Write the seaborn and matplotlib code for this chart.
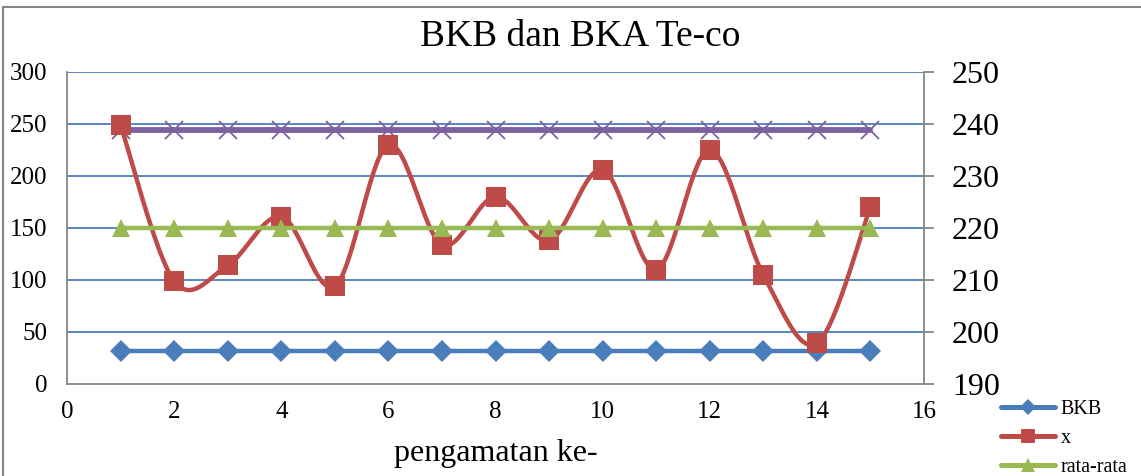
import numpy as np
import pandas as pd
import matplotlib
matplotlib.use("Agg")
import matplotlib.pyplot as plt
import seaborn as sns
from matplotlib.lines import Line2D
from matplotlib.patches import Rectangle

# ---- data ----
pengamatan = [1, 2, 3, 4, 5, 6, 7, 8, 9, 10, 11, 12, 13, 14, 15]
bkb = [32] * 15
x_vals = [249, 99, 114, 161, 94, 230, 134, 180, 138, 206, 110, 225, 105, 39, 170]
rata = [150] * 15
bka = [244] * 15
left_ticks = [0, 50, 100, 150, 200, 250, 300]
right_ticks = [190, 200, 210, 220, 230, 240, 250]
x_ticks = [0, 2, 4, 6, 8, 10, 12, 14, 16]

sns.set_style("white")
plt.rcParams['font.family'] = ['Liberation Serif', 'DejaVu Serif']
plt.rcParams['text.color'] = 'black'
plt.rcParams['axes.labelcolor'] = 'black'
plt.rcParams['xtick.color'] = 'black'
plt.rcParams['ytick.color'] = 'black'

C_BLUE = "#4a7ebb"
C_RED = "#be4b48"
C_GREEN = "#98b954"
C_PURPLE = "#7d60a0"
C_GRID = "#4a7ebb"
C_AX = "#868686"

fig = plt.figure(figsize=(11.41, 4.76), dpi=100)
ax = fig.add_axes([67/1141, 1-384/476, (924-67)/1141, (384-72)/476])

def smooth(xs, ys, n=30):
    # Catmull-Rom style rendering of the line (like spreadsheet "smoothed line")
    P = np.column_stack([xs, ys]).astype(float)
    P = np.vstack([P[0], P, P[-1]])
    out = []
    t = np.linspace(0, 1, n)
    for i in range(1, len(P) - 2):
        p0, p1, p2, p3 = P[i-1], P[i], P[i+1], P[i+2]
        c1 = p1 + (p2 - p0) / 6
        c2 = p2 - (p3 - p1) / 6
        seg = ((1-t)**3)[:, None]*p1 + (3*(1-t)**2*t)[:, None]*c1 + (3*(1-t)*t**2)[:, None]*c2 + (t**3)[:, None]*p2
        out.append(seg if i == 1 else seg[1:])
    out = np.vstack(out)
    return out[:, 0], out[:, 1]

df = pd.DataFrame({"n": pengamatan, "BKB": bkb, "x": x_vals, "rata": rata, "BKA": bka})

# purple BKA
sns.lineplot(data=df, x="n", y="BKA", ax=ax, color=C_PURPLE, linewidth=4.2,
             marker="x", markersize=13, markeredgewidth=1.3, markeredgecolor=C_PURPLE, zorder=3)
# BKB
sns.lineplot(data=df, x="n", y="BKB", ax=ax, color=C_BLUE, linewidth=3.2,
             marker="D", markersize=11, markeredgewidth=0, zorder=4)
# x smoothed
sx, sy = smooth(pengamatan, x_vals)
sns.lineplot(x=sx, y=sy, ax=ax, color=C_RED, linewidth=3.2, sort=False, estimator=None, zorder=5)
sns.scatterplot(data=df, x="n", y="x", ax=ax, color=C_RED, marker="s", s=190, linewidth=0, zorder=6)
# rata-rata
sns.lineplot(data=df, x="n", y="rata", ax=ax, color=C_GREEN, linewidth=3.2,
             marker="^", markersize=13, markeredgewidth=0, zorder=7)

ax.set_xlim(0, 16)
ax.set_ylim(0, 300)
ax.set_xticks(x_ticks)
ax.set_yticks(left_ticks)
ax.tick_params(axis="y", labelsize=18, length=0, pad=14, labelcolor="black")
ax.tick_params(axis="x", labelsize=18, length=0, pad=12, labelcolor="black")
for yv in left_ticks[1:]:
    ax.axhline(yv, color=C_GRID, linewidth=1.3, zorder=1)
ax.set_xlabel("pengamatan ke-", fontsize=23, labelpad=12, color="black")
ax.set_ylabel("")
for s in ["left", "bottom"]:
    ax.spines[s].set_color(C_AX)
    ax.spines[s].set_linewidth(1.3)
ax.spines["top"].set_visible(False)
ax.spines["right"].set_visible(False)

ax2 = ax.twinx()
ax2.set_ylim(190, 250)
ax2.set_yticks(right_ticks)
ax2.tick_params(axis="y", labelsize=23, length=7, width=1.3, color=C_AX,
                direction="out", pad=13, labelcolor="black")
for s in ["left", "bottom", "top"]:
    ax2.spines[s].set_visible(False)
ax2.spines["right"].set_color(C_AX)
ax2.spines["right"].set_linewidth(1.3)

fig.text(580/1141, 1-37/476, "BKB dan BKA Te-co", ha="center", va="center",
         fontsize=27, color="black")

handles = [
    Line2D([], [], color=C_BLUE, lw=3.6, marker="D", markersize=8, markeredgewidth=0),
    Line2D([], [], color=C_RED, lw=3.6, marker="s", markersize=10, markeredgewidth=0),
    Line2D([], [], color=C_GREEN, lw=3.6, marker="^", markersize=10, markeredgewidth=0),
]
fig.legend(handles, ["BKB", "x", "rata-rata"], loc="upper left",
           bbox_to_anchor=(1001/1141, 1-400/476), frameon=False, fontsize=14.5,
           handlelength=2.7, handletextpad=0.25, labelspacing=0.5, borderaxespad=0,
           borderpad=0)

fig.patches.append(Rectangle((3/1141, -0.02), 1.1, 1-7/476 + 0.02, transform=fig.transFigure,
                             fill=False, edgecolor=C_AX, linewidth=1.5))

fig.savefig("out.png", dpi=100)
